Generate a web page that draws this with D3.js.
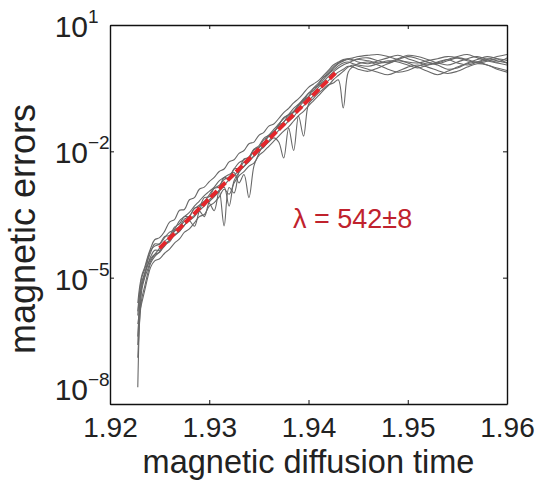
<!DOCTYPE html>
<html>
<head>
<meta charset="utf-8">
<script src="https://cdn.jsdelivr.net/npm/d3@7"></script>
<style>
  body { margin: 0; background: #fff; }
  svg { font-family: "Liberation Sans", Arial, Helvetica, sans-serif; }
</style>
</head>
<body>
<svg id="chart" width="535" height="485"></svg>
<script>
// time samples shared by every run (denser during the growth phase)
const times = [
  1.9228, 1.9230, 1.9232, 1.9235, 1.9238, 1.9241, 1.9245,
  1.9250, 1.9255, 1.9260, 1.9265, 1.9270, 1.9275, 1.9280, 1.9285, 1.9290, 1.9295,
  1.9300, 1.9305, 1.9310, 1.9315, 1.9320, 1.9325, 1.9330, 1.9335, 1.9340, 1.9345,
  1.9350, 1.9355, 1.9360, 1.9365, 1.9370, 1.9375, 1.9380, 1.9385, 1.9390, 1.9395,
  1.9400, 1.9405, 1.9410, 1.9415, 1.9420, 1.9425, 1.9430, 1.9435, 1.9440, 1.9445,
  1.9450, 1.946, 1.947, 1.948, 1.949, 1.950, 1.951, 1.952, 1.953, 1.954, 1.955, 1.956, 1.957, 1.958, 1.959, 1.960
];

// log10 of the magnetic error, one array per run
const run1 = [
  -7.6, -5.9, -5.3, -5.0, -4.8, -4.6, -4.45,
  -4.30, -4.13, -4.05, -3.87, -3.78, -3.61, -3.54, -3.36, -3.28, -3.19,
  -3.03, -2.87, -2.81, -2.67, -2.61, -2.42, -2.27, -2.20, -2.13, -1.95,
  -1.87, -1.69, -1.62, -1.55, -1.38, -1.20, -1.13, -1.05, -0.89, -0.79,
  -0.63, -0.56, -0.42, -0.24, -0.17, -0.03, 0.08, 0.14, 0.18, 0.16,
  0.20, 0.22, 0.15, 0.10, 0.18, 0.25, 0.20, 0.12, 0.08, 0.15, 0.22, 0.18, 0.10, 0.14, 0.20, 0.16
];
const run2 = [
  -6.4, -5.6, -5.1, -4.9, -4.7, -4.5, -4.35,
  -4.35, -4.18, -4.12, -3.90, -3.83, -3.66, -3.65, -3.78, -3.41, -3.19,
  -3.23, -3.41, -2.94, -3.77, -2.86, -2.99, -2.47, -2.25, -2.19, -1.97,
  -1.90, -1.83, -1.62, -1.55, -1.38, -1.31, -1.13, -1.08, -0.91, -0.77,
  -0.70, -0.51, -0.44, -0.30, -0.16, -0.07, 0.03, 0.10, 0.12, 0.08,
  0.05, 0.02, 0.08, 0.15, 0.12, 0.05, -0.02, 0.05, 0.12, 0.18, 0.10, 0.05, 0.12, 0.20, 0.15, 0.10
];
const run3 = [
  -5.9, -5.4, -5.2, -4.95, -4.6, -4.4, -4.2,
  -4.20, -4.05, -3.92, -3.85, -3.65, -3.55, -3.45, -3.30, -3.18, -3.05,
  -2.95, -2.85, -2.70, -2.62, -2.55, -2.50, -2.75, -2.55, -3.10, -2.35,
  -2.05, -1.80, -1.62, -1.48, -1.35, -1.22, -1.12, -0.98, -0.88, -0.75,
  -0.62, -0.50, -0.38, -0.25, -0.12, 0.00, 0.10, 0.16, 0.20, 0.22,
  0.25, 0.28, 0.30, 0.25, 0.18, 0.12, 0.10, 0.15, 0.20, 0.25, 0.22, 0.15, 0.12, 0.18, 0.25, 0.30
];
const run4 = [
  -6.9, -6.0, -5.5, -5.2, -4.9, -4.65, -4.5,
  -4.38, -4.25, -4.10, -4.00, -3.90, -3.75, -3.62, -3.52, -3.40, -3.30,
  -3.15, -3.05, -2.92, -2.80, -2.68, -2.58, -2.45, -2.36, -2.22, -2.12,
  -2.00, -1.88, -1.78, -1.68, -1.78, -2.16, -1.45, -1.98, -1.16, -1.64,
  -0.88, -0.74, -0.62, -0.52, -0.42, -0.38, -0.30, -0.97, -0.12, 0.02,
  0.08, 0.12, 0.05, -0.05, -0.12, -0.08, 0.02, 0.10, 0.05, -0.05, -0.02, 0.08, 0.12, 0.05, -0.02, -0.08
];
const run5 = [
  -5.6, -5.2, -4.95, -4.75, -4.5, -4.3, -4.1,
  -4.05, -3.90, -3.68, -3.62, -3.40, -3.38, -3.15, -3.10, -2.90, -2.85,
  -2.72, -2.62, -2.48, -2.42, -2.25, -2.20, -2.05, -1.98, -1.82, -1.78,
  -1.62, -1.55, -1.40, -1.35, -1.22, -1.08, -0.98, -0.85, -0.75, -0.62,
  -0.48, -0.40, -0.32, -0.20, -0.08, 0.05, 0.12, 0.18, 0.20, 0.17,
  0.12, 0.08, 0.15, 0.22, 0.28, 0.20, 0.12, 0.05, 0.10, 0.18, 0.25, 0.30, 0.22, 0.15, 0.10, 0.05
];
const run6 = [
  -6.1, -5.8, -5.6, -5.3, -5.0, -4.75, -4.6,
  -4.55, -4.42, -4.32, -4.18, -4.08, -3.92, -3.84, -3.70, -3.55, -3.50,
  -3.30, -3.22, -3.08, -2.90, -3.02, -2.75, -2.58, -2.48, -2.35, -2.28,
  -2.10, -2.00, -1.88, -1.76, -1.64, -1.52, -1.42, -1.28, -1.15, -1.05,
  -0.92, -0.80, -0.68, -0.55, -0.44, -0.30, -0.20, -0.10, 0.00, 0.05,
  0.02, -0.05, -0.12, -0.18, -0.10, 0.00, 0.05, 0.00, -0.08, -0.15, -0.10, 0.00, 0.08, 0.05, -0.05, -0.12
];
const run7 = [
  -5.8, -5.3, -5.0, -4.8, -4.55, -4.35, -4.25,
  -4.20, -4.02, -4.00, -3.80, -3.72, -3.55, -3.55, -3.35, -3.32, -3.10,
  -3.08, -2.88, -2.85, -2.62, -2.66, -2.42, -2.40, -2.18, -2.15, -1.96,
  -1.92, -1.72, -1.65, -1.52, -1.42, -1.30, -1.18, -1.05, -0.95, -0.82,
  -0.70, -0.60, -0.48, -0.35, -0.22, -0.12, -0.02, 0.05, 0.10, 0.15,
  0.18, 0.15, 0.10, 0.12, 0.20, 0.28, 0.25, 0.18, 0.10, 0.05, 0.12, 0.20, 0.25, 0.18, 0.12, 0.22
];
const run8 = [
  -6.6, -5.6, -5.2, -4.9, -4.7, -4.55, -4.45,
  -4.40, -4.22, -4.15, -3.98, -3.90, -3.75, -3.65, -3.55, -3.42, -3.55,
  -3.20, -3.08, -2.95, -2.85, -3.30, -2.70, -2.50, -2.35, -2.25, -2.10,
  -1.98, -1.90, -1.75, -1.62, -1.50, -1.40, -1.28, -1.18, -1.02, -0.92,
  -0.80, -0.68, -0.55, -0.45, -0.32, -0.22, -0.12, -0.05, 0.02, 0.00,
  -0.05, -0.10, -0.02, 0.08, 0.15, 0.10, 0.00, -0.10, -0.18, -0.10, 0.00, 0.10, 0.18, 0.25, 0.20, 0.10
];
const runs = [run1, run2, run3, run4, run5, run6, run7, run8];

// exponential fit (red dashed line), endpoints only
const fitTimes = [1.925, 1.9427];
const fitLog = [-4.3, -0.14];
const fitLabel = "\u03bb = 542\u00b18";

// axis ticks
const xTicks = [1.92, 1.93, 1.94, 1.95, 1.96];
const yTickExps = [1, -2, -5, -8];

const svg = d3.select("#chart");
const margin = { left: 110, top: 25, right: 28, bottom: 81 };
const width = 535, height = 485;

const x = d3.scaleLinear().domain([1.92, 1.96]).range([margin.left, width - margin.right]);
const y = d3.scaleLog().domain([1e-8, 1e1]).range([height - margin.bottom, margin.top]);

svg.append("clipPath").attr("id", "plotClip")
  .append("rect")
  .attr("x", x(1.92)).attr("y", y(1e1))
  .attr("width", x(1.96) - x(1.92)).attr("height", y(1e-8) - y(1e1));

const line = d3.line()
  .x((d, i) => x(times[i]))
  .y(d => y(Math.pow(10, d)))
  .curve(d3.curveCatmullRom.alpha(0.5));

const plot = svg.append("g").attr("clip-path", "url(#plotClip)");

plot.selectAll(".run")
  .data(runs)
  .join("path")
  .attr("class", "run")
  .attr("d", line)
  .attr("fill", "none")
  .attr("stroke", "#686868")
  .attr("stroke-width", 1.1);

// fit line on top
plot.append("path")
  .datum(fitLog)
  .attr("d", d3.line().x((d, i) => x(fitTimes[i])).y(d => y(Math.pow(10, d))))
  .attr("fill", "none")
  .attr("stroke", "#e3262b")
  .attr("stroke-width", 4)
  .attr("stroke-dasharray", "9,3");

// axes: ticks point inward, full box
const axisColor = "#111";
const bottom = svg.append("g")
  .attr("transform", `translate(0,${y(1e-8)})`)
  .call(d3.axisBottom(x).tickValues(xTicks).tickSize(-4).tickSizeOuter(0).tickPadding(13)
    .tickFormat(d3.format(".2f")));
bottom.selectAll("text").attr("font-size", 28).attr("fill", "#222")
  .attr("dy", "0.71em");

svg.append("g")
  .attr("transform", `translate(0,${y(1e1)})`)
  .call(d3.axisTop(x).tickValues(xTicks).tickSize(-4).tickSizeOuter(0).tickFormat(""));

svg.append("g")
  .attr("transform", `translate(${x(1.92)},0)`)
  .call(d3.axisLeft(y).tickValues(yTickExps.map(e => Math.pow(10, e)))
    .tickSize(-4).tickSizeOuter(0).tickFormat(""));

svg.append("g")
  .attr("transform", `translate(${x(1.96)},0)`)
  .call(d3.axisRight(y).tickValues(yTickExps.map(e => Math.pow(10, e)))
    .tickSize(-4).tickSizeOuter(0).tickFormat(""));

svg.selectAll(".domain").attr("stroke", axisColor).attr("stroke-width", 1.4);
svg.selectAll(".tick line").attr("stroke", axisColor).attr("stroke-width", 1);

// y tick labels as 10 with superscript exponent
yTickExps.forEach(e => {
  const yy = y(Math.pow(10, e)) + (e === -8 ? -4 : 12);
  svg.append("text")
    .attr("x", 88)
    .attr("y", yy)
    .attr("text-anchor", "end")
    .attr("font-size", 30)
    .attr("fill", "#222")
    .text("10");
  svg.append("text")
    .attr("x", 88)
    .attr("y", yy - 14)
    .attr("font-size", 19)
    .attr("fill", "#222")
    .text(e < 0 ? "\u2212" + Math.abs(e) : String(e));
});

// fit label
svg.append("text")
  .attr("x", 293)
  .attr("y", 228)
  .attr("font-size", 27)
  .attr("fill", "#c0222d")
  .text(fitLabel);

// axis titles
svg.append("text")
  .attr("x", (x(1.92) + x(1.96)) / 2)
  .attr("y", 473)
  .attr("text-anchor", "middle")
  .attr("font-size", 32.5)
  .attr("fill", "#222")
  .text("magnetic diffusion time");

svg.append("text")
  .attr("transform", `translate(35,229) rotate(-90)`)
  .attr("text-anchor", "middle")
  .attr("font-size", 36)
  .attr("fill", "#222")
  .text("magnetic errors");
</script>
</body>
</html>
